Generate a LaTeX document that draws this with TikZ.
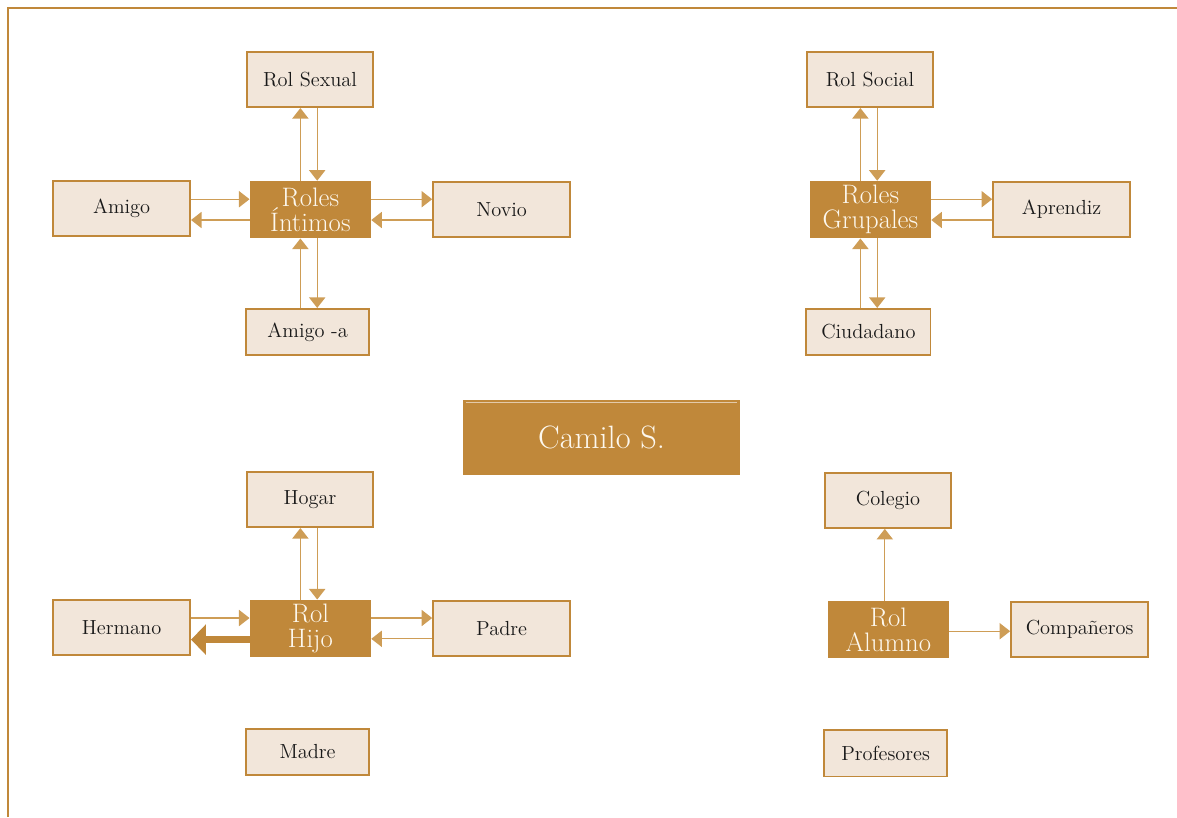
\documentclass[tikz,border=0pt]{standalone}
\usepackage{xcolor}
\usepackage{tikz}
\usetikzlibrary{arrows.meta}

\definecolor{oro}{HTML}{C0883A}
\definecolor{crema}{HTML}{F2E6DA}
\definecolor{linea}{HTML}{CE9D56}
\definecolor{blanco}{HTML}{FDF8EE}

\begin{document}
\begin{tikzpicture}[
  rol/.style={draw=oro,fill=crema,line width=1.2pt,
    minimum width=3.16cm,minimum height=1.38cm,
    font=\fontsize{14.5}{16}\selectfont,align=center,text=black!90},
  ancho/.style={rol,minimum width=3.43cm},
  bajo/.style={rol,minimum width=3.08cm,minimum height=1.16cm},
  eje/.style={fill=oro,draw=none,text=blanco,
    minimum width=3.03cm,minimum height=1.43cm,inner sep=1pt,
    font=\fontsize{19}{17.5}\selectfont,align=center},
  flecha/.style={-{Triangle[length=7.5pt,width=11.5pt]},linea,line width=0.9pt},
  >=Stealth
]
\useasboundingbox (0,0) rectangle (29.425,-20.425);
\draw[oro,line width=1.4pt] (0.19,-20.425) -- (0.19,-0.2) -- (29.425,-0.2);

% roles intimos
\node[rol]   (rsex)  at ( 7.75, -1.99) {Rol Sexual};
\node[ancho] (amigo) at ( 3.04, -5.21) {Amigo};
\node[eje]   (intim) at ( 7.76, -5.24) {Roles\\Íntimos};
\node[ancho] (novio) at (12.54, -5.24) {Novio};
\node[bajo]  (amiga) at ( 7.69, -8.30) {Amigo -a};

% roles grupales
\node[rol]   (rsoc)  at (21.75, -1.99) {Rol Social};
\node[eje]   (grup)  at (21.76, -5.24) {Roles\\Grupales};
\node[ancho] (apr)   at (26.54, -5.24) {Aprendiz};
\node[bajo,minimum width=3.11cm] (ciud) at (21.71, -8.30) {Ciudadano};

\node[fill=oro,text=blanco,minimum width=6.93cm,minimum height=1.88cm,
      font=\fontsize{23}{26}\selectfont] (camilo)
  at (15.04, -10.94) {Camilo S.};
\draw[crema!70!oro,line width=0.6pt]
  ([xshift=0.08cm,yshift=-0.06cm]camilo.north west)
  -- ([xshift=-0.08cm,yshift=-0.06cm]camilo.north east);

% rol hijo
\node[rol]   (hogar) at ( 7.75,-12.49) {Hogar};
\node[ancho] (herm)  at ( 3.04,-15.69) {Hermano};
\node[eje]   (hijo)  at ( 7.76,-15.71) {Rol\\Hijo};
\node[ancho] (padre) at (12.54,-15.71) {Padre};
\node[bajo]  (madre) at ( 7.69,-18.80) {Madre};

% rol alumno
\node[rol]   (coleg) at (22.20,-12.51) {Colegio};
\node[eje]   (alum)  at (22.21,-15.74) {Rol\\Alumno};
\node[ancho] (comp)  at (26.99,-15.74) {Compañeros};
\node[bajo]  (prof)  at (22.14,-18.83) {Profesores};

\foreach \c/\a in {intim/rsex,grup/rsoc,hijo/hogar}{
  \draw[flecha] ([xshift=-0.25cm]\c.north) -- ([xshift=-0.25cm]\c.north |- \a.south);
  \draw[flecha] ([xshift=0.17cm]\c.north |- \a.south) -- ([xshift=0.17cm]\c.north);
}
\foreach \c/\a in {intim/amiga,grup/ciud}{
  \draw[flecha] ([xshift=-0.25cm]\c.south |- \a.north) -- ([xshift=-0.25cm]\c.south);
  \draw[flecha] ([xshift=0.17cm]\c.south) -- ([xshift=0.17cm]\c.south |- \a.north);
}
\foreach \c/\b in {intim/novio,grup/apr,hijo/padre}{
  \draw[flecha] ([yshift=0.26cm]\c.east) -- ([yshift=0.26cm]\c.east -| \b.west);
  \draw[flecha] ([yshift=-0.26cm]\c.east -| \b.west) -- ([yshift=-0.26cm]\c.east);
}
\foreach \c/\a in {intim/amigo,hijo/herm}
  \draw[flecha] ([yshift=0.26cm]\c.west -| \a.east) -- ([yshift=0.26cm]\c.west);
\draw[flecha] ([yshift=-0.26cm]intim.west) -- ([yshift=-0.26cm]intim.west -| amigo.east);
\draw[-{Triangle[length=10.5pt,width=21pt]},oro,line width=4.5pt]
  ([yshift=-0.28cm]hijo.west) -- ([yshift=-0.28cm]hijo.west -| herm.east);

\draw[flecha] ([xshift=-0.09cm]alum.north) -- ([xshift=-0.09cm]alum.north |- coleg.south);
\draw[flecha] ([yshift=-0.04cm]alum.east) -- ([yshift=-0.04cm]alum.east -| comp.west);
\end{tikzpicture}
\end{document}
